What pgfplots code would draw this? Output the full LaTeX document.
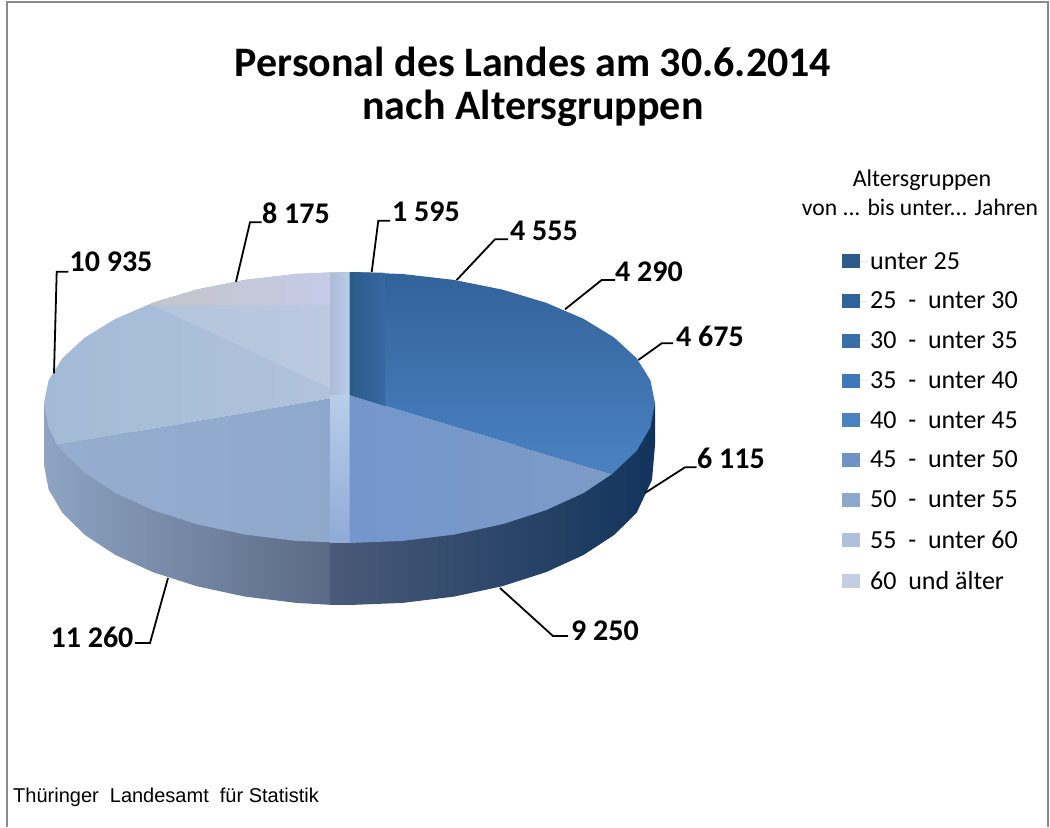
\documentclass[border=0pt]{standalone}
\usepackage{pgfplots}
\pgfplotsset{compat=1.18}
\usepackage{fontspec}
\setmainfont{Carlito}
\newfontfamily\arialfont{Liberation Sans}
\newcommand{\fs}[1]{\fontsize{#1}{#1}\selectfont}
\definecolor{frame}{HTML}{8A8A8A}
\definecolor{lg1}{HTML}{2F5B8A}
\definecolor{lg2}{HTML}{30639C}
\definecolor{lg3}{HTML}{3A6EA6}
\definecolor{lg4}{HTML}{3F78B8}
\definecolor{lg5}{HTML}{4A82C0}
\definecolor{lg6}{HTML}{7092C4}
\definecolor{lg7}{HTML}{8EA7CC}
\definecolor{lg8}{HTML}{B0BFDC}
\definecolor{lg9}{HTML}{C5CDE3}
\definecolor{HTMLa}{HTML}{A3BAD6}
\definecolor{HTMLb}{HTML}{B2C4DD}
\definecolor{HTMLc}{HTML}{B3C4DB}
\definecolor{HTMLd}{HTML}{BCC9E0}
\definecolor{HTMLe}{HTML}{C4C5C8}
\definecolor{HTMLf}{HTML}{C5CBE8}
\definecolor{HTMLg}{HTML}{96ADCF}
\definecolor{HTMLh}{HTML}{7496CC}
\definecolor{HTMLi}{HTML}{7C9BC6}
\definecolor{HTMLj}{HTML}{32629A}
\definecolor{HTMLk}{HTML}{4A82C2}
\definecolor{HTMLl}{HTML}{2B5A8A}
\definecolor{HTMLm}{HTML}{37689F}
\definecolor{HTMLn}{HTML}{AEBAD6}
\definecolor{HTMLo}{HTML}{B8CFE8}
\definecolor{HTMLp}{HTML}{90AAD8}
\definecolor{sideRa}{HTML}{4A5A78}
\definecolor{sideRb}{HTML}{2D466A}
\definecolor{sideRc}{HTML}{12345C}
\definecolor{sideLa}{HTML}{8EA4C2}
\definecolor{sideLb}{HTML}{7186A4}
\definecolor{sideLc}{HTML}{5A6A86}
\begin{document}
\begin{tikzpicture}
\begin{axis}[
    scale only axis, width=1050pt, height=827pt,
    xmin=0, xmax=1050, ymin=0, ymax=827, y dir=reverse,
    hide axis, clip=false,
    legend style={at={(axis cs:842,250)}, anchor=north west, draw=none, fill=none,
        font=\fs{26}, row sep=17.4pt, inner sep=0pt},
    legend cell align=left,
    legend image code/.code={\fill[draw=none,#1] (0pt,-7pt) rectangle (18pt,7pt); \path[draw=none] (0pt,0pt) -- (26pt,0pt);},
]
% legend
\addlegendimage{fill=lg1}\addlegendentry{unter 25}
\addlegendimage{fill=lg2}\addlegendentry{25\ \ -\ \ unter 30}
\addlegendimage{fill=lg3}\addlegendentry{30\ \ -\ \ unter 35}
\addlegendimage{fill=lg4}\addlegendentry{35\ \ -\ \ unter 40}
\addlegendimage{fill=lg5}\addlegendentry{40\ \ -\ \ unter 45}
\addlegendimage{fill=lg6}\addlegendentry{45\ \ -\ \ unter 50}
\addlegendimage{fill=lg7}\addlegendentry{50\ \ -\ \ unter 55}
\addlegendimage{fill=lg8}\addlegendentry{55\ \ -\ \ unter 60}
\addlegendimage{fill=lg9}\addlegendentry{60\ \ und älter}

% page corners, so that the picture has the full size
\addplot[draw=none] coordinates {(0,0)(1050,827)};
% frame
\addplot[draw=frame, line width=1.6pt] coordinates {(7,827)(7,2)(1048,2)(1048,827)};

% side of the pie, right and left part
\addplot[draw=none, left color=sideRa, middle color=sideRb, right color=sideRc] coordinates {
    (655,403)(655,445)(652,480)(636.6,512.9)(614.1,535)(583.5,555)(545.9,572.2)(502.3,586.2)
    (454,596.6)(402.5,602.9)(349.5,605)(330,604.8)(330,500)} -- cycle;
\addplot[draw=none, left color=sideLa, middle color=sideLb, right color=sideLc] coordinates {
    (330,500)(330,604.8)(296.5,602.9)(245,596.6)(196.7,586.2)(153.1,572.2)(115.5,555)
    (84.9,535)(62.4,512.9)(48.6,489.3)(44,465)(44,403)} -- cycle;

% top: 60 and older + 55-60 base
\addplot[draw=none, left color=HTMLa, right color=HTMLb] coordinates {
    (349.5,395)(57,445)(48.6,427.3)(44,403)(48.6,380.3)(62.4,358.2)(84.9,337.5)(115.5,318.8)
    (153.1,302.7)(196.7,289.6)(245,279.9)(296.5,274)(349.5,272)} -- cycle;
% top: upper left wedge
\addplot[draw=none, left color=HTMLc, right color=HTMLd] coordinates {
    (330,388)(150,304)(153.1,302.7)(196.7,289.6)(245,279.9)(296.5,274)(330,272.4)} -- cycle;
\addplot[draw=none, left color=HTMLe, right color=HTMLf] coordinates {
    (150,305)(153.1,302.7)(196.7,289.6)(245,279.9)(296.5,274)(330,272.4)(330,305)} -- cycle;
% top: 50-55
\addplot[draw=none, left color=HTMLg, right color=lg7] coordinates {
    (349.5,395)(349.5,543)(296.5,540.9)(245,534.6)(196.7,524.2)(153.1,510.2)(115.5,493)
    (84.9,473)(62.4,450.9)(57,445)} -- cycle;
% top: 45-50
\addplot[draw=none, left color=HTMLh, right color=HTMLi] coordinates {
    (349.5,395)(612,474)(583.5,493)(545.9,510.2)(502.3,524.2)(454,534.6)(402.5,540.9)(349.5,543)} -- cycle;
% top: dark wedge, under 25 up to 40-45
\addplot[draw=none, top color=HTMLj, bottom color=HTMLk] coordinates {
    (349.5,395)(349.5,272)(402.5,274)(454,279.9)(502.3,289.6)(545.9,302.7)(583.5,318.8)(614.1,337.5)
    (636.6,358.2)(650.4,380.3)(655,403)(650.4,427.3)(636.6,450.9)(612,474)} -- cycle;
\addplot[draw=none, left color=HTMLl, right color=HTMLm] coordinates {
    (349.5,395)(349.5,272)(385,272.8)(385,406)} -- cycle;
% vertical strip
\addplot[draw=none, left color=HTMLn, right color=HTMLo] coordinates {
    (330,272.4)(349.5,272)(349.5,395)(330,395)} -- cycle;
\addplot[draw=none, top color=HTMLo, bottom color=HTMLp] coordinates {
    (330,395)(349.5,395)(349.5,543)(330,542.8)} -- cycle;

% leader lines
\addplot[black, line width=1.8pt] coordinates {(371.7,272)(378.3,220.7)(390,220.7)};
\addplot[black, line width=1.8pt] coordinates {(456.7,280)(495,239.3)(508,239.3)};
\addplot[black, line width=1.8pt] coordinates {(565,309.3)(601.7,280)(615,280)};
\addplot[black, line width=1.8pt] coordinates {(638.3,360)(661.7,343.3)(673,343.3)};
\addplot[black, line width=1.8pt] coordinates {(645,493)(685,467.3)(696.7,467.3)};
\addplot[black, line width=1.8pt] coordinates {(500,588)(553,636)(568,636)};
\addplot[black, line width=1.8pt] coordinates {(168,578)(150,643)(135,643)};
\addplot[black, line width=1.8pt] coordinates {(54,373.3)(56.7,271.7)(68.3,271.7)};
\addplot[black, line width=1.8pt] coordinates {(236,281.7)(250,222.3)(261.7,222.3)};

% value labels
\addplot[draw=none, nodes near coords, point meta=explicit symbolic,
    nodes near coords style={anchor=center, inner sep=0pt, text=black, font=\bfseries\fs{30}}]
    coordinates {
    (426,212)[1 595] (544,231)[4 555] (649,272)[4 290] (710,336)[4 675] (731,458)[6 115]
    (605,631)[9 250] (92,637)[11 260] (111,262)[10 935] (296,213)[8 175]};

% texts
\node[font=\bfseries\fs{42}] at (axis cs:533,62) {Personal des Landes am 30.6.2014};
\node[font=\bfseries\fs{42}] at (axis cs:533,108) {nach Altersgruppen};
\node[font=\fs{24}] at (axis cs:922,180) {Altersgruppen};
\node[font=\fs{23.6}] at (axis cs:920,207) {von ... bis unter... Jahren};
\node[font=\arialfont\fs{20}, anchor=west, inner sep=0pt] at (axis cs:13,797) {Thüringer\ \ Landesamt\ \ für Statistik};
\end{axis}
\end{tikzpicture}
\end{document}
